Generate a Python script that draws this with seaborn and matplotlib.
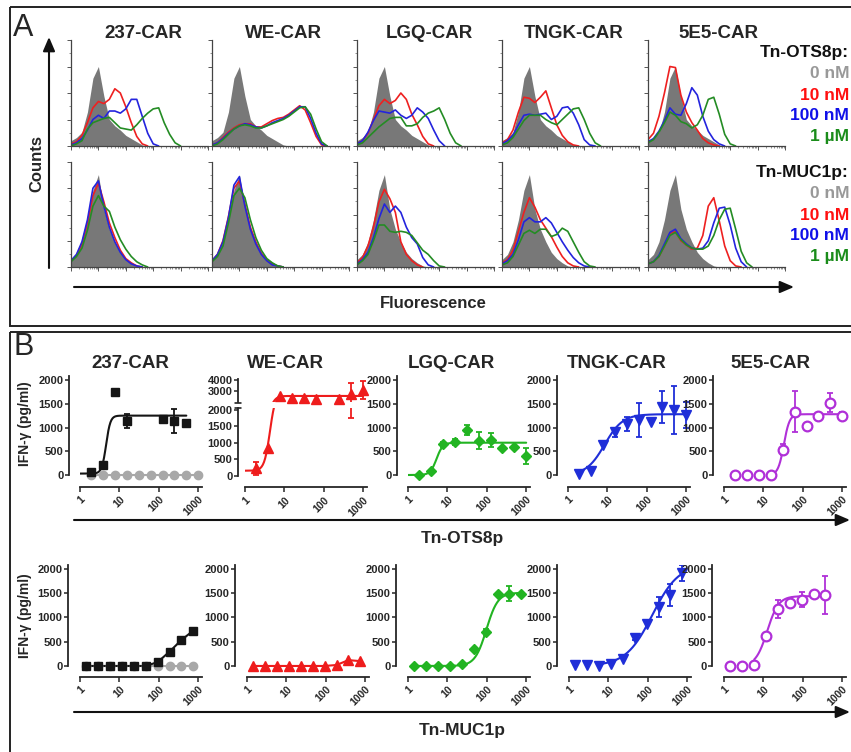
import numpy as np
import matplotlib
matplotlib.use('Agg')
import matplotlib.pyplot as plt
from matplotlib.patches import Rectangle
import seaborn as sns

# ---------------- panel A: flow histograms (heights as fraction of axis) ----------------
cars = ['237-CAR', 'WE-CAR', 'LGQ-CAR', 'TNGK-CAR', '5E5-CAR']
hist_bins = np.round(np.arange(26) * 0.04, 2)

gray_top = [0.05, 0.08, 0.13, 0.32, 0.64, 0.75, 0.47, 0.25, 0.19, 0.15, 0.10, 0.07, 0.04, 0.01, 0]
gray_bot = [0.07, 0.12, 0.24, 0.45, 0.73, 0.88, 0.55, 0.36, 0.24, 0.14, 0.08, 0.04, 0.01, 0]

top_red = [
    [0.02, 0.04, 0.10, 0.22, 0.36, 0.42, 0.40, 0.44, 0.54, 0.50, 0.37, 0.22, 0.09, 0.02, 0],
    [0.01, 0.03, 0.08, 0.13, 0.17, 0.20, 0.21, 0.21, 0.18, 0.18, 0.21, 0.24, 0.26, 0.27, 0.30, 0.34, 0.38, 0.34, 0.22, 0.09, 0.01, 0],
    [0.02, 0.05, 0.12, 0.25, 0.38, 0.44, 0.40, 0.43, 0.50, 0.44, 0.30, 0.20, 0.09, 0.02, 0],
    [0.03, 0.06, 0.15, 0.32, 0.46, 0.45, 0.41, 0.46, 0.52, 0.36, 0.20, 0.10, 0.04, 0.01, 0],
    [0.06, 0.12, 0.28, 0.50, 0.75, 0.74, 0.48, 0.32, 0.22, 0.15, 0.07, 0.03, 0.01, 0],
]
top_blue = [
    [0.01, 0.03, 0.07, 0.15, 0.25, 0.29, 0.26, 0.33, 0.33, 0.31, 0.35, 0.44, 0.44, 0.28, 0.12, 0.02, 0],
    [0.01, 0.03, 0.07, 0.12, 0.16, 0.19, 0.21, 0.20, 0.18, 0.17, 0.19, 0.22, 0.24, 0.26, 0.29, 0.33, 0.37, 0.37, 0.26, 0.12, 0.02, 0],
    [0.02, 0.05, 0.13, 0.24, 0.33, 0.32, 0.31, 0.34, 0.29, 0.26, 0.29, 0.36, 0.32, 0.26, 0.15, 0.05, 0],
    [0.02, 0.05, 0.10, 0.20, 0.29, 0.30, 0.29, 0.30, 0.31, 0.25, 0.28, 0.36, 0.37, 0.31, 0.20, 0.06, 0.01, 0],
    [0.04, 0.07, 0.14, 0.24, 0.36, 0.30, 0.29, 0.40, 0.55, 0.48, 0.28, 0.14, 0.06, 0.02, 0],
]
top_green = [
    [0.0, 0.02, 0.05, 0.16, 0.22, 0.24, 0.26, 0.27, 0.22, 0.17, 0.16, 0.15, 0.20, 0.26, 0.31, 0.35, 0.36, 0.22, 0.11, 0.03, 0],
    [0.0, 0.02, 0.06, 0.11, 0.16, 0.19, 0.20, 0.19, 0.17, 0.17, 0.19, 0.21, 0.23, 0.25, 0.28, 0.32, 0.36, 0.37, 0.30, 0.16, 0.04, 0],
    [0.01, 0.03, 0.08, 0.13, 0.18, 0.22, 0.26, 0.27, 0.27, 0.19, 0.19, 0.21, 0.27, 0.31, 0.33, 0.36, 0.25, 0.12, 0.03, 0],
    [0.01, 0.03, 0.08, 0.16, 0.24, 0.29, 0.29, 0.29, 0.25, 0.22, 0.20, 0.25, 0.30, 0.35, 0.36, 0.25, 0.12, 0.03, 0],
    [0.03, 0.06, 0.13, 0.22, 0.32, 0.29, 0.23, 0.21, 0.17, 0.20, 0.29, 0.44, 0.46, 0.30, 0.11, 0.02, 0],
]
bot_red = [
    [0.06, 0.11, 0.22, 0.42, 0.68, 0.80, 0.62, 0.42, 0.28, 0.16, 0.08, 0.04, 0.01, 0],
    [0.06, 0.12, 0.25, 0.48, 0.75, 0.82, 0.60, 0.38, 0.24, 0.13, 0.07, 0.03, 0.01, 0],
    [0.04, 0.09, 0.20, 0.38, 0.62, 0.74, 0.65, 0.52, 0.24, 0.12, 0.06, 0.02, 0],
    [0.04, 0.07, 0.16, 0.34, 0.52, 0.66, 0.57, 0.45, 0.37, 0.29, 0.19, 0.10, 0.04, 0.01, 0],
    [0.03, 0.05, 0.10, 0.20, 0.32, 0.34, 0.25, 0.21, 0.17, 0.18, 0.30, 0.58, 0.66, 0.44, 0.20, 0.06, 0.01, 0],
]
bot_blue = [
    [0.06, 0.12, 0.24, 0.45, 0.75, 0.82, 0.58, 0.38, 0.24, 0.14, 0.07, 0.03, 0.01, 0],
    [0.06, 0.12, 0.24, 0.47, 0.78, 0.86, 0.58, 0.36, 0.22, 0.12, 0.06, 0.02, 0.01, 0],
    [0.03, 0.07, 0.14, 0.28, 0.46, 0.60, 0.52, 0.58, 0.52, 0.38, 0.28, 0.22, 0.09, 0.02, 0],
    [0.03, 0.06, 0.12, 0.26, 0.43, 0.47, 0.43, 0.43, 0.47, 0.42, 0.33, 0.24, 0.16, 0.09, 0.04, 0.01, 0],
    [0.03, 0.05, 0.11, 0.22, 0.33, 0.36, 0.27, 0.22, 0.18, 0.17, 0.18, 0.25, 0.42, 0.56, 0.57, 0.40, 0.18, 0.05, 0],
]
bot_green = [
    [0.05, 0.10, 0.18, 0.35, 0.58, 0.68, 0.58, 0.53, 0.38, 0.26, 0.17, 0.10, 0.05, 0.02, 0],
    [0.05, 0.10, 0.20, 0.42, 0.68, 0.75, 0.66, 0.45, 0.28, 0.16, 0.08, 0.04, 0.01, 0],
    [0.02, 0.06, 0.12, 0.25, 0.40, 0.40, 0.34, 0.33, 0.34, 0.33, 0.30, 0.23, 0.16, 0.12, 0.06, 0.01, 0],
    [0.02, 0.04, 0.10, 0.21, 0.32, 0.35, 0.32, 0.36, 0.36, 0.29, 0.31, 0.37, 0.34, 0.24, 0.14, 0.05, 0.01, 0],
    [0.03, 0.05, 0.10, 0.20, 0.30, 0.33, 0.26, 0.21, 0.18, 0.17, 0.17, 0.20, 0.30, 0.45, 0.55, 0.56, 0.36, 0.15, 0.04, 0],
]
legend_labels = ['0 nM', '10 nM', '100 nM', '1 µM']

# ---------------- panel B: IFN-gamma (pg/ml) vs peptide (nM) ----------------
conc_ots = [1.95, 3.9, 7.8, 15.6, 31.25, 62.5, 125, 250, 500, 1000]
conc_muc = [1.46, 2.93, 5.86, 11.7, 23.4, 46.9, 93.75, 187.5, 375, 750]

ots_vals = [
    [56, 210, 1755, 1137, None, None, 1180, 1137, 1088, None],
    [230, 850, 2550, 2330, 2400, 2250, None, 2250, 2730, 3090],
    [0, 90, 645, 700, 950, 720, 737, 560, 590, 407],
    [14, 90, 630, 900, 1075, 1160, 1120, 1425, 1370, 1265],
    [0, 0, 0, 0, 535, 1335, 1035, 1250, 1520, 1250],
]
ots_err = [
    [0, 0, 0, 140, 0, 0, 0, 250, 0, 0],
    [200, 0, 0, 0, 0, 0, 0, 0, 980, 850],
    [0, 0, 55, 60, 105, 180, 140, 0, 0, 170],
    [0, 0, 0, 90, 140, 350, 0, 340, 510, 265],
    [0, 0, 0, 0, 115, 430, 50, 40, 200, 70],
]
muc_vals = [
    [0, 0, 0, 0, 0, 0, 80, 295, 535, 728],
    [0, 0, 0, 0, 0, 0, 0, 20, 120, 100],
    [0, 0, 0, 0, 50, 350, 700, 1490, 1490, 1490],
    [20, 20, 7, 35, 150, 580, 865, 1215, 1460, 1915],
    [0, 0, 20, 610, 1172, 1300, 1370, 1475, 1460, None],
]
muc_err = [
    [0] * 10,
    [0] * 10,
    [0, 0, 0, 0, 0, 0, 60, 0, 150, 0],
    [0, 0, 0, 0, 0, 50, 0, 200, 230, 170],
    [0, 0, 0, 30, 180, 80, 150, 0, 385, 0],
]
mock_vals = [0] * 10  # grey control for 237-CAR

# 4-parameter logistic fits: bottom, top, EC50, hill, from, to
fit_ots = [(30, 1250, 4.6, 8, 1, 500), (160, 2550, 4.3, 6, 1, 1000), (0, 680, 5.3, 5.5, 1, 1000),
           (0, 1280, 8.5, 1.9, 1.95, 1000), (0, 1280, 33, 6, 15.6, 1000)]
fit_muc = [None, None, (0, 1510, 98, 3, 1.46, 750), (0, 2100, 130, 1.3, 5.86, 750),
           (0, 1440, 12.5, 3, 5.86, 375)]

b_colors = ['#151515', '#ee1c1c', '#22b422', '#1f2ed8', '#b030d8']
b_markers = ['s', '^', 'D', 'v', 'o']
b_msize = [6, 6.5, 5.5, 6.5, 7]
b_open = [False, False, False, False, True]

sns.set_theme(style='ticks')
plt.rcParams['font.family'] = ['Liberation Sans', 'DejaVu Sans']
plt.rcParams['axes.linewidth'] = 1.3

W, H = 851, 752
fig = plt.figure(figsize=(W / 100, H / 100), dpi=100)


def px_axes(x, y, w, h):
    a = fig.add_axes([x / W, 1 - (y + h) / H, w / W, h / H])
    a.patch.set_visible(False)
    return a


ov = px_axes(0, 0, W, H)
ov.set_xlim(0, W)
ov.set_ylim(H, 0)
ov.axis('off')

ov.add_patch(Rectangle((10, 7), 860, 319, fill=False, lw=1.4, ec='#222'))
ov.add_patch(Rectangle((10, 332), 860, 440, fill=False, lw=1.4, ec='#222'))
ov.text(13, 28, 'A', fontsize=22, va='center', ha='left')
ov.text(13, 347, 'B', fontsize=22, va='center', ha='left')


def arrow(x0, y0, x1, y1):
    ov.annotate('', xy=(x1, y1), xytext=(x0, y0),
                arrowprops=dict(arrowstyle='-|>,head_length=0.7,head_width=0.3', lw=1.5,
                                color='#111', shrinkA=0, shrinkB=0))


arrow(49, 268, 49, 37)
arrow(74, 287, 794, 287)
arrow(74, 520, 850, 520)
arrow(74, 712, 850, 712)
ov.text(37, 163, 'Counts', rotation=90, fontsize=12, fontweight='bold', ha='center', va='center')
ov.text(433, 303, 'Fluorescence', fontsize=12, fontweight='bold', ha='center', va='center')
ov.text(462, 538, 'Tn-OTS8p', fontsize=12.5, fontweight='bold', ha='center', va='center')
ov.text(462, 730, 'Tn-MUC1p', fontsize=12.5, fontweight='bold', ha='center', va='center')

leg_colors = ['#999999', '#ff1010', '#1010e8', '#1a8c1a']
for head, y0 in [('Tn-OTS8p:', 53), ('Tn-MUC1p:', 173)]:
    ov.text(849, y0, head, fontsize=12.5, fontweight='bold', ha='right', va='center', color='#111')
    for k, (lab, c) in enumerate(zip(legend_labels, leg_colors)):
        ov.text(849, y0 + 21 * (k + 1), lab, fontsize=12.5, fontweight='bold', ha='right',
                va='center', color=c)

# ---------------- panel A drawing ----------------
hist_left = [71, 212, 357, 502, 648]
a_title_x = [143, 283, 429, 574, 718]
minor_x = [d * 0.2 + 0.2 * np.log10(k) for d in range(5) for k in range(2, 10)]
hist_red, hist_blue, hist_green = '#ee2020', '#2424dd', '#248c24'

for i, car in enumerate(cars):
    ov.text(a_title_x[i], 33, car, fontsize=13.5, fontweight='bold', ha='center', va='center')
    rows = [(40, 106, gray_top, top_red[i], top_blue[i], top_green[i]),
            (162, 105, gray_bot, bot_red[i], bot_blue[i], bot_green[i])]
    for ytop, hh, gray, red, blue, green in rows:
        ax = px_axes(hist_left[i], ytop, 137, hh)
        ax.fill_between(hist_bins[:len(gray)], gray, color='#787878', lw=0)
        for vals, c in [(red, hist_red), (blue, hist_blue), (green, hist_green)]:
            sns.lineplot(x=hist_bins[:len(vals)], y=vals, color=c, lw=1.2, ax=ax,
                         estimator=None, sort=False)
        ax.set_xlim(0, 1)
        ax.set_ylim(0, 1)
        sns.despine(ax=ax)
        for s in ['left', 'bottom']:
            ax.spines[s].set_linewidth(0.9)
            ax.spines[s].set_color('#444')
        ax.set_xticks(np.arange(6) * 0.2)
        ax.set_xticks(minor_x, minor=True)
        ax.set_yticks(np.arange(5) * 0.25)
        ax.set_yticks(np.arange(9) * 0.125, minor=True)
        ax.tick_params(which='major', length=3, width=0.7, color='#555',
                       labelbottom=False, labelleft=False)
        ax.tick_params(which='minor', length=1.5, width=0.5, color='#666')
        ax.set_xlabel('')
        ax.set_ylabel('')

# ---------------- panel B drawing ----------------
b_title_x = [130, 285, 451, 617, 770]
top_x0 = [80, 245, 408, 568, 724]
top_off = [11, 7, 11, 11, 11]
bot_x0 = [80, 247, 408, 569, 724]
PT = 72 / 100


def logistic(x, bottom, top, ec50, hill):
    return bottom + (top - bottom) / (1 + (ec50 / x) ** hill)


def style_dose(ax, off_left, off_bottom, ylim, yticks, show_x=True):
    ax.set_xscale('log')
    ax.set_xlim(1, 1250)
    ax.set_ylim(*ylim)
    sns.despine(ax=ax)
    ax.spines['left'].set_position(('outward', off_left * PT))
    ax.spines['left'].set_bounds(max(ylim[0], 0), ylim[1])
    ax.set_yticks(yticks)
    ax.set_yticklabels([str(t) for t in yticks], fontsize=8, fontweight='bold')
    ax.tick_params(axis='y', length=3, width=1.1, pad=1)
    if show_x:
        ax.spines['bottom'].set_position(('outward', off_bottom * PT))
        ax.set_xticks([1, 10, 100, 1000])
        ax.set_xticklabels(['1', '10', '100', '1000'], rotation=45, ha='right',
                           rotation_mode='anchor', fontsize=7.5, fontweight='bold')
        ax.tick_params(axis='x', which='major', length=3.5, width=1.1, pad=2)
        ax.tick_params(axis='x', which='minor', length=0)
    else:
        ax.spines['bottom'].set_visible(False)
        ax.tick_params(axis='x', which='both', length=0, labelbottom=False)
    ax.set_xlabel('')
    ax.set_ylabel('')


def draw_dose(ax, conc, vals, errs, fit, color, marker, ms, connect, hollow=False,
              clip=False, vrange=None):
    pts = [(c, v, e) for c, v, e in zip(conc, vals, errs) if v is not None]
    if fit is not None:
        bottom, top, ec50, hill, x_from, x_to = fit
        fx = np.logspace(np.log10(x_from), np.log10(x_to), 200)
        sns.lineplot(x=fx, y=logistic(fx, bottom, top, ec50, hill), color=color, lw=1.5,
                     ax=ax, estimator=None, sort=False)
    elif connect:
        sns.lineplot(x=[p[0] for p in pts], y=[p[1] for p in pts], color=color, lw=1.5,
                     ax=ax, estimator=None, sort=False)
    eb = [p for p in pts if p[2] > 0]
    if eb:
        ax.errorbar([p[0] for p in eb], [p[1] for p in eb], yerr=[p[2] for p in eb],
                    fmt='none', ecolor=color, elinewidth=1.3, capsize=2.5, capthick=1.3)
    if vrange is not None:
        pts = [p for p in pts if vrange[0] <= p[1] <= vrange[1]]
    xs = [p[0] for p in pts]
    ys = [p[1] for p in pts]
    if hollow:
        ax.plot(xs, ys, ls='none', marker=marker, ms=ms, mfc='white', mec=color, mew=1.6,
                clip_on=clip, zorder=5)
    else:
        ax.plot(xs, ys, ls='none', marker=marker, ms=ms, color=color, mec=color,
                clip_on=clip, zorder=5)


yt = [0, 500, 1000, 1500, 2000]
for i, car in enumerate(cars):
    ov.text(b_title_x[i], 363, car, fontsize=13.5, fontweight='bold', ha='center', va='center')
    c, m, ms, ho = b_colors[i], b_markers[i], b_msize[i], b_open[i]

    # top row, Tn-OTS8p
    if car == 'WE-CAR':
        low = px_axes(top_x0[i], 408.35, 122, 477.3 - 408.35)
        up = px_axes(top_x0[i], 378.9, 122, 402 - 378.9)
        draw_dose(low, conc_ots, ots_vals[i], ots_err[i], fit_ots[i], c, m, ms, False, ho,
                  True, (-100, 2000))
        draw_dose(up, conc_ots, ots_vals[i], ots_err[i], fit_ots[i], c, m, ms, False, ho,
                  False, (2000, 4100))
        for art in up.lines[:1] + up.collections:
            art.set_clip_on(True)
        style_dose(low, top_off[i], 10, (-40, 2050), yt)
        style_dose(up, top_off[i], 0, (2000, 4100), [3000, 4000], show_x=False)
        up.spines['left'].set_bounds(2000, 4100)
        sx = top_x0[i] - top_off[i]
        ov.plot([sx - 3, sx + 3], [402.5, 402.5], color='#111', lw=1.1)
        ov.plot([sx - 3, sx + 3], [408, 408], color='#111', lw=1.1)
    else:
        ax = px_axes(top_x0[i], 376.2, 122, 476.9 - 376.2)
        if i == 0:
            draw_dose(ax, conc_ots, mock_vals, [0] * 10, None, '#a8a8a8', 'o', 6, True)
        draw_dose(ax, conc_ots, ots_vals[i], ots_err[i], fit_ots[i], c, m, ms, False, ho)
        style_dose(ax, top_off[i], 10, (-40, 2080), yt)

    # bottom row, Tn-MUC1p
    ax = px_axes(bot_x0[i], 565.1, 122, 667.9 - 565.1)
    if i == 0:
        draw_dose(ax, conc_muc, mock_vals, [0] * 10, None, '#a8a8a8', 'o', 6, True)
    draw_dose(ax, conc_muc, muc_vals[i], muc_err[i], fit_muc[i], c, m, ms, fit_muc[i] is None, ho)
    style_dose(ax, 12, 9, (-40, 2080), yt)

ov.text(25, 424, 'IFN-γ (pg/ml)', rotation=90, fontsize=10, fontweight='bold',
        ha='center', va='center')
ov.text(25, 616, 'IFN-γ (pg/ml)', rotation=90, fontsize=10, fontweight='bold',
        ha='center', va='center')

fig.savefig('out.png', dpi=100)
